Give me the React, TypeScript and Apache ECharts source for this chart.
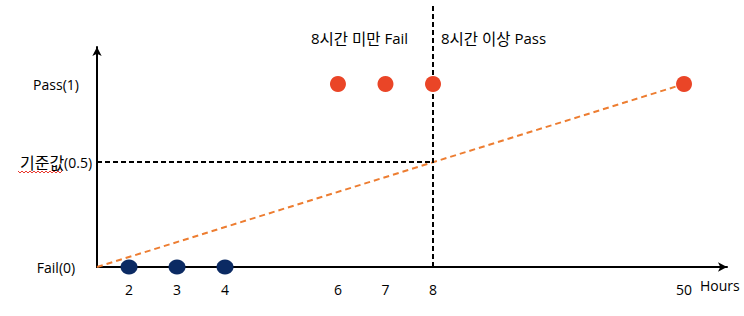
import React, { useEffect, useRef } from "react";
import * as echarts from "echarts";

// Study hours vs. pass/fail outcome
const xTickHours = [2, 3, 4, 6, 7, 8, 50];
const failHours = [2, 3, 4];
const failValues = [0, 0, 0];
const passHours = [6, 7, 8, 50];
const passValues = [1, 1, 1, 1];
const trendHours = [0, 50];
const trendValues = [0, 1];
const cutoffHour = 8;
const thresholdValue = 0.5;
const yTickValues = [0, 0.5, 1];
const yTickLabels = ["Fail(0)", "기준값(0.5)", "Pass(1)"];
const xAxisTitle = "Hours";
const leftNote = "8시간 미만 Fail";
const rightNote = "8시간 이상 Pass";

// Broken (piecewise-linear) scales: data value -> axis position
const X_KNOTS: [number, number][] = [
  [0, 0], [2, 0.667], [4, 2.667], [6, 5.02], [8, 7], [50, 12.23],
];
const Y_KNOTS: [number, number][] = [
  [0, 0], [0.5, 105], [1, 183],
];
const X_MAX = 13.125;
const Y_MAX = 220;
const CUTOFF_TOP = 262;

function interp(knots: [number, number][], v: number): number {
  for (let i = 0; i < knots.length - 1; i++) {
    const [a0, b0] = knots[i];
    const [a1, b1] = knots[i + 1];
    if (v <= a1 || i === knots.length - 2) {
      return b0 + ((v - a0) / (a1 - a0)) * (b1 - b0);
    }
  }
  return knots[0][1];
}
const sx = (h: number) => interp(X_KNOTS, h);
const sy = (v: number) => interp(Y_KNOTS, v);

function nearestLabel(pos: number, positions: number[], labels: string[]) {
  let best = 0;
  positions.forEach((p, i) => {
    if (Math.abs(p - pos) < Math.abs(positions[best] - pos)) best = i;
  });
  return labels[best];
}

// Hangul runs get a slightly larger size so they sit level with the Latin text
const HANGUL = /([\uac00-\ud7a3]+)/g;
const richKo = (s: string) => s.replace(HANGUL, "{ko|$1}");

const FONT = "'Open Sans', 'Noto Sans CJK KR', sans-serif";
const KO_FONT = "'Noto Sans CJK KR', sans-serif";

export default function App() {
  const ref = useRef<HTMLDivElement>(null);

  useEffect(() => {
    document.body.style.margin = "0";
    if (!ref.current) return;
    const chart = echarts.init(ref.current, undefined, { renderer: "svg" });

    const xPositions = xTickHours.map(sx);
    const yPositions = yTickValues.map(sy);

    // wavy spell-check underline under the Korean label
    const squiggle: number[][] = [];
    for (let i = 0; i <= 22; i++) {
      squiggle.push([18 + i * 2, i % 2 === 0 ? 171 : 173]);
    }

    const noteStyle = (text: string) => ({
      text: richKo(text),
      fill: "#000",
      fontSize: 15,
      fontFamily: FONT,
      rich: { ko: { fontSize: 15.5, fontFamily: KO_FONT, fill: "#000" } },
    });

    chart.setOption({
      animation: false,
      textStyle: { fontFamily: FONT },
      grid: { left: 97, right: 17, top: 47, bottom: 49 },
      xAxis: {
        type: "value",
        min: 0,
        max: X_MAX,
        splitLine: { show: false },
        axisTick: { show: false },
        axisLine: {
          show: true,
          symbol: ["none", "arrow"],
          symbolSize: [7, 9],
          lineStyle: { color: "#000", width: 2 },
        },
        axisLabel: {
          customValues: xPositions,
          formatter: (v: number) =>
            nearestLabel(v, xPositions, xTickHours.map(String)),
          color: "#000",
          fontSize: 14,
          fontFamily: FONT,
          margin: 15,
        },
      },
      yAxis: {
        type: "value",
        min: 0,
        max: Y_MAX,
        splitLine: { show: false },
        axisTick: { show: false },
        axisLine: {
          show: true,
          symbol: ["none", "arrow"],
          symbolSize: [7, 9],
          lineStyle: { color: "#000", width: 2 },
        },
        axisLabel: {
          customValues: yPositions,
          formatter: (v: number) =>
            richKo(nearestLabel(v, yPositions, yTickLabels)),
          color: "#000",
          fontSize: 14,
          fontFamily: FONT,
          align: "center",
          margin: 41,
          rich: { ko: { fontSize: 16, fontFamily: KO_FONT, color: "#000" } },
        },
      },
      graphic: [
        {
          type: "text",
          left: 311,
          top: 30,
          style: noteStyle(leftNote),
        },
        {
          type: "text",
          left: 441,
          top: 30,
          style: noteStyle(rightNote),
        },
        {
          type: "text",
          left: 700,
          top: 278,
          style: { text: xAxisTitle, fill: "#000", font: `14px ${FONT}` },
        },
        {
          type: "polyline",
          shape: { points: squiggle },
          style: { stroke: "#e8382e", lineWidth: 1, fill: "none" },
        },
      ],
      series: [
        {
          type: "line",
          data: trendHours.map((h, i) => [sx(h), sy(trendValues[i])]),
          symbol: "none",
          lineStyle: { color: "#ed7d31", width: 2, type: [6, 4] },
          z: 1,
        },
        {
          type: "line",
          data: [
            [sx(0), sy(thresholdValue)],
            [sx(cutoffHour), sy(thresholdValue)],
          ],
          symbol: "none",
          lineStyle: { color: "#000", width: 2, type: [5, 3] },
          z: 2,
        },
        {
          type: "line",
          clip: false,
          data: [
            [sx(cutoffHour), 0],
            [sx(cutoffHour), CUTOFF_TOP],
          ],
          symbol: "none",
          lineStyle: { color: "#000", width: 2, type: [5, 3] },
          z: 2,
        },
        {
          type: "scatter",
          data: failHours.map((h, i) => [sx(h), sy(failValues[i])]),
          symbol: "circle",
          symbolSize: [17, 15],
          itemStyle: { color: "#0b2a63", opacity: 1 },
          z: 4,
        },
        {
          type: "scatter",
          data: passHours.map((h, i) => [sx(h), sy(passValues[i])]),
          symbol: "circle",
          symbolSize: 16,
          itemStyle: { color: "#ea4527", opacity: 1 },
          z: 4,
        },
      ],
    });

    return () => chart.dispose();
  }, []);

  return <div ref={ref} style={{ width: 744, height: 316 }} />;
}
